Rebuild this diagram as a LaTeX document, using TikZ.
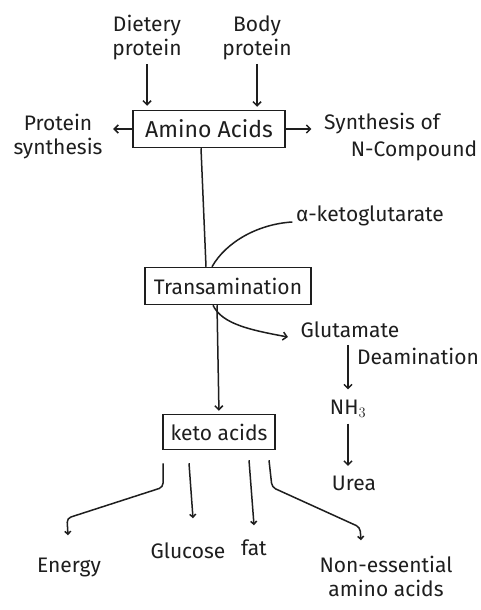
\documentclass[tikz,border=0pt]{standalone}
\usepackage{fontspec}
\setmainfont{Fira Sans}
\usetikzlibrary{arrows.meta}
\definecolor{ink}{HTML}{1E1E1E}
\begin{document}
\begin{tikzpicture}[x=1pt,y=-1pt,line width=1.5pt,
  lbl/.style={font=\fontsize{21}{24}\selectfont,text=ink,inner sep=0pt,align=center},
  boxn/.style={lbl,draw=ink,minimum height=37pt},
  arr/.style={draw=ink,-{Straight Barb[length=4pt,width=8pt]}},
  tie/.style={draw=ink},
  tip/.style={draw=ink,rounded corners=4pt,-{Straight Barb[length=3pt,width=6pt]}}]
\useasboundingbox[fill=white] (0,0) rectangle (480,610);
% boxes
\node[boxn,minimum width=152pt,font=\fontsize{23}{26}\selectfont] (amino) at (209,129) {Amino Acids};
\node[boxn,minimum width=166pt] (trans) at (228,286) {Transamination};
\node[boxn,minimum width=112pt,minimum height=35pt] (keto) at (219,432) {keto acids};
% labels
\node[lbl] (diet) at (147,38) {Dietery\\protein};
\node[lbl] (body) at (257,38) {Body\\protein};
\node[lbl] (psyn) at (58,137) {Protein\\synthesis};
\node[lbl] (syn1) at (382,124) {Synthesis of};
\node[lbl] (syn2) at (414,151) {N-Compound};
\node[lbl] (akg) at (370,216) {α-ketoglutarate};
\node[lbl] (glu) at (350,330) {Glutamate};
\node[lbl] (deam) at (418,356) {Deamination};
\node[lbl] (nh) at (348,409) {NH$_3$};
\node[lbl] (urea) at (354,483) {Urea};
\node[lbl] (energy) at (69,567) {Energy};
\node[lbl] (gluc) at (188,551) {Glucose};
\node[lbl] (fat) at (254,548) {fat};
\node[lbl] (ness) at (386,576) {Non-essential\\amino acids};
% top arrows
\draw[arr,shorten <=3pt,shorten >=4pt] (diet.south) -- (diet.south |- amino.north);
\draw[arr,shorten <=3pt,shorten >=3pt] (body.south) -- (body.south |- amino.north);
\draw[arr,shorten >=10pt] (amino.west) -- (psyn.east |- amino.west);
\draw[arr,shorten >=12pt] (amino.east) -- (syn1.west |- amino.east);
% amino to transamination
\draw[tie] ([xshift=-8pt]amino.south) -- ([xshift=-22pt]trans.north);
% alpha-ketoglutarate
\draw[tie] ([xshift=-16pt]trans.north) .. controls (226,242) and (258,224) .. ([xshift=-3pt,yshift=-6pt]akg.west);
% glutamate
\draw[arr] ([xshift=-15pt]trans.south) .. controls (222,324) and (250,330) .. ([xshift=-12pt,yshift=-7pt]glu.west);
% main arrow
\draw[arr,shorten >=3pt] ([xshift=-11pt]trans.south) -- (keto.north);
% deamination and urea
\draw[arr,shorten <=6pt,shorten >=10pt] (glu.south -| nh.north) -- (nh.north);
\draw[arr,shorten <=5pt,shorten >=9pt] (nh.south) -- (nh.south |- urea.north);
% bottom branches
\draw[tip] ([xshift=-56pt,yshift=-13pt]keto.south) -- ++(0,24) -- ++(-96,31) -- ++(1,17);
\draw[tip] ([xshift=-30pt,yshift=-13pt]keto.south) -- ++(4,55);
\draw[tip] ([xshift=30pt,yshift=-10pt]keto.south) -- ++(5,65);
\draw[tip] ([xshift=50pt,yshift=-10pt]keto.south) -- ++(3,27) -- ++(88,40) -- ++(1,13);
\end{tikzpicture}
\end{document}
